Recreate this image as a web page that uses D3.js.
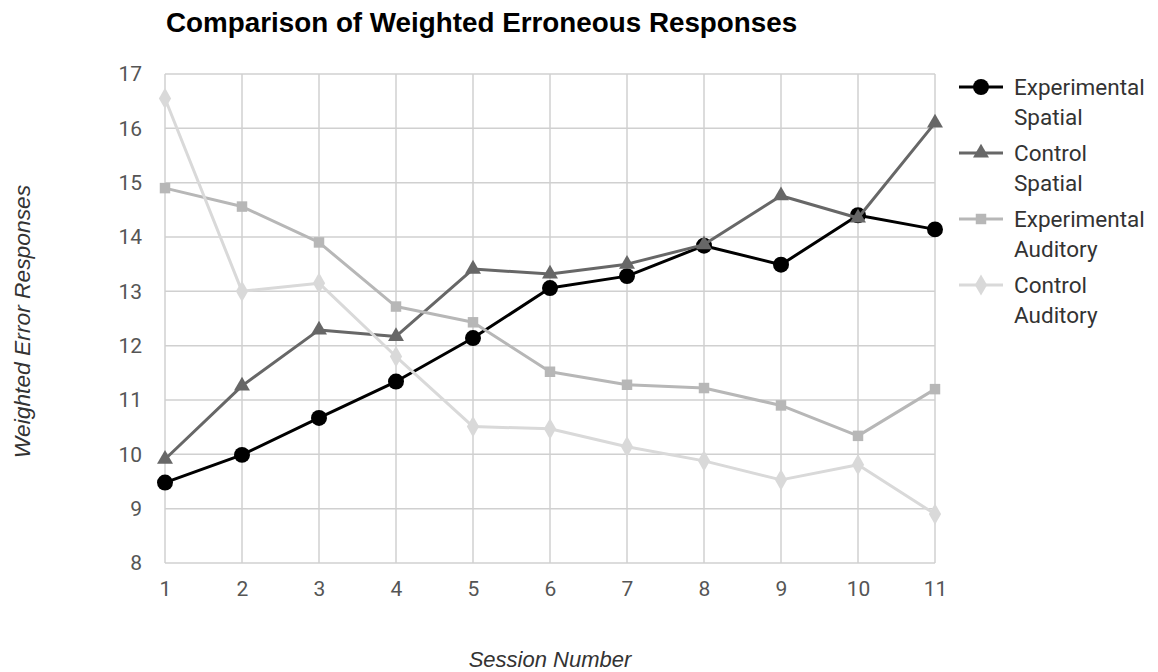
<!DOCTYPE html>
<html lang="en">
<head>
    <meta charset="UTF-8">
    <title>Comparison of Weighted Erroneous Responses</title>
    <script src="https://d3js.org/d3.v7.min.js"></script>
    <style>
        body { margin: 0; background: #fff; }
    </style>
</head>
<body>
    <div id="chart"></div>
    <script>

    // data
    const sessions = [1, 2, 3, 4, 5, 6, 7, 8, 9, 10, 11];
    const yTicks = [8, 9, 10, 11, 12, 13, 14, 15, 16, 17];

    const expSpatial  = [9.48, 9.99, 10.67, 11.34, 12.14, 13.06, 13.28, 13.84, 13.49, 14.40, 14.14];
    const ctrlSpatial = [9.91, 11.26, 12.29, 12.17, 13.41, 13.32, 13.50, 13.86, 14.76, 14.35, 16.10];
    const expAuditory = [14.90, 14.56, 13.90, 12.72, 12.43, 11.52, 11.28, 11.22, 10.90, 10.34, 11.20];
    const ctrlAuditory = [16.55, 13.00, 13.15, 11.80, 10.51, 10.47, 10.14, 9.88, 9.53, 9.81, 8.90];

    const seriesNames = [["Experimental", "Spatial"], ["Control", "Spatial"], ["Experimental", "Auditory"], ["Control", "Auditory"]];
    const seriesValues = [expSpatial, ctrlSpatial, expAuditory, ctrlAuditory];
    const seriesColors = ["#000000", "#676767", "#b7b7b7", "#d9d9d9"];
    const seriesSymbols = [d3.symbolCircle, d3.symbolTriangle, d3.symbolSquare, d3.symbolDiamond];
    const symbolSizes = [200, 110, 110, 130];

    const W = 1158, H = 672;
    const margin = { top: 74, right: 223, bottom: 109, left: 165 };
    const width = W - margin.left - margin.right;
    const height = H - margin.top - margin.bottom;

    const svg = d3.select("#chart")
        .append("svg")
        .attr("width", W)
        .attr("height", H)
        .style("font-family", "Roboto, 'Liberation Sans', Arial, sans-serif");

    const g = svg.append("g")
        .attr("transform", `translate(${margin.left},${margin.top})`);

    const x = d3.scaleLinear().domain([1, 11]).range([0, width]);
    const y = d3.scaleLinear().domain([8, 17]).range([height, 0]);

    // grid
    g.append("g")
        .selectAll("line")
        .data(yTicks)
        .join("line")
        .attr("x1", 0).attr("x2", width)
        .attr("y1", d => y(d)).attr("y2", d => y(d))
        .attr("stroke", "#d0d0d0")
        .attr("stroke-width", 1.5);

    g.append("g")
        .selectAll("line")
        .data(sessions)
        .join("line")
        .attr("x1", d => x(d)).attr("x2", d => x(d))
        .attr("y1", 0).attr("y2", height)
        .attr("stroke", "#d0d0d0")
        .attr("stroke-width", 1.5);

    // axes (labels only)
    const xAxis = g.append("g")
        .attr("transform", `translate(0,${height})`)
        .call(d3.axisBottom(x).tickValues(sessions).tickFormat(d3.format("d")).tickSize(0).tickPadding(18));
    const yAxis = g.append("g")
        .call(d3.axisLeft(y).tickValues(yTicks).tickFormat(d3.format("d")).tickSize(0).tickPadding(23));
    [xAxis, yAxis].forEach(a => {
        a.select(".domain").remove();
        a.selectAll("text")
            .attr("fill", "#555")
            .style("font-size", "21px")
            .style("font-family", "Roboto, sans-serif");
    });

    // lines and markers
    const line = d3.line()
        .x((d, i) => x(sessions[i]))
        .y(d => y(d));

    seriesValues.forEach((vals, si) => {
        const sg = g.append("g");
        sg.append("path")
            .datum(vals)
            .attr("d", line)
            .attr("fill", "none")
            .attr("stroke", seriesColors[si])
            .attr("stroke-width", 3)
            .attr("stroke-linejoin", "round");
        sg.selectAll("path.pt")
            .data(vals)
            .join("path")
            .attr("class", "pt")
            .attr("d", d3.symbol().type(seriesSymbols[si]).size(symbolSizes[si]))
            .attr("transform", (d, i) => `translate(${x(sessions[i])},${y(d)})`)
            .attr("fill", seriesColors[si]);
    });

    // title
    svg.append("text")
        .attr("x", 166)
        .attr("y", 32)
        .style("font-family", "'Liberation Sans', Arial, sans-serif")
        .style("font-weight", "bold")
        .style("font-size", "27.8px")
        .attr("fill", "#000")
        .text("Comparison of Weighted Erroneous Responses");

    // axis titles
    svg.append("text")
        .attr("x", margin.left + width / 2)
        .attr("y", 667)
        .attr("text-anchor", "middle")
        .style("font-family", "'Liberation Sans', Arial, sans-serif")
        .style("font-style", "italic")
        .style("font-size", "22px")
        .attr("fill", "#333")
        .text("Session Number");

    svg.append("text")
        .attr("transform", `translate(30,${margin.top + height / 2 + 3}) rotate(-90)`)
        .attr("text-anchor", "middle")
        .style("font-family", "'Liberation Sans', Arial, sans-serif")
        .style("font-style", "italic")
        .style("font-size", "22.8px")
        .attr("fill", "#333")
        .text("Weighted Error Responses");

    // legend
    const legend = svg.append("g")
        .attr("transform", "translate(959,87)");
    seriesNames.forEach((name, si) => {
        const lg = legend.append("g").attr("transform", `translate(0,${si * 66})`);
        lg.append("line")
            .attr("x1", 0).attr("x2", 44)
            .attr("stroke", seriesColors[si])
            .attr("stroke-width", 3);
        lg.append("path")
            .attr("d", d3.symbol().type(seriesSymbols[si]).size(symbolSizes[si]))
            .attr("transform", "translate(22,0)")
            .attr("fill", seriesColors[si]);
        const t = lg.append("text")
            .attr("x", 55)
            .attr("y", 8)
            .style("font-size", "22.5px")
            .attr("fill", "#333");
        t.append("tspan").attr("x", 55).text(name[0]);
        t.append("tspan").attr("x", 55).attr("dy", 30).text(name[1]);
    });

    </script>
</body>
</html>
